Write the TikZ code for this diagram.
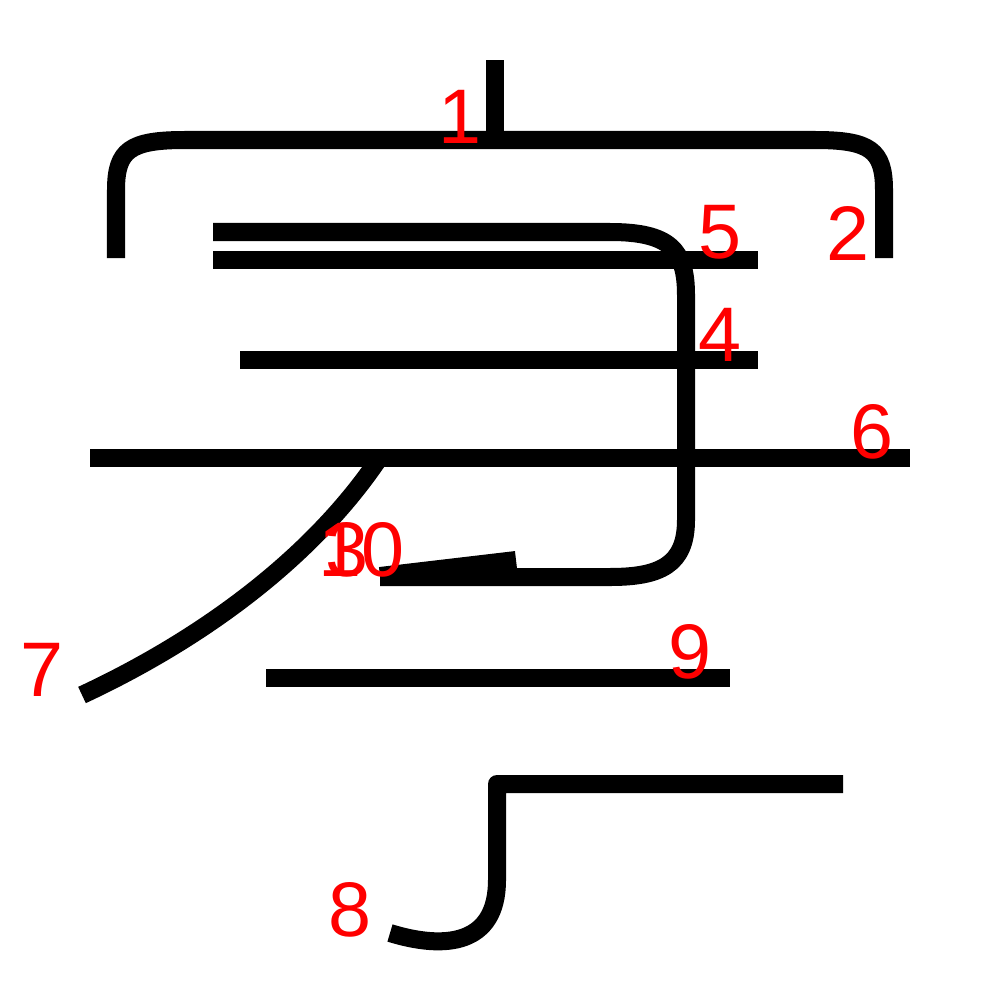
\documentclass[tikz,border=0pt]{standalone}
\usepackage{fontspec}
\newfontfamily\numfont{Liberation Sans}
\usetikzlibrary{positioning}

\begin{document}
\begin{tikzpicture}[
  x=0.01cm, y=-0.01cm,
  stroke/.style={draw=black, line width=0.18cm, line cap=butt, line join=round},
  num/.style={text=red, inner sep=0pt, font=\numfont\fontsize{22}{22}\selectfont}
]
  \useasboundingbox (0,0) rectangle (1000,1000);

  % Strokes
  \draw[stroke] (495,60) -- (495,140);
  \draw[stroke] (116,258) -- (116,190) .. controls (116,150) and (130,140) .. (185,140)
    -- (815,140) .. controls (870,140) and (884,150) .. (884,190) -- (884,258);
  \draw[stroke] (213,232) -- (610,232) .. controls (670,232) and (686,250) .. (686,295)
    -- (686,520) .. controls (686,565) and (660,577) .. (610,577) -- (380,577);
  \draw[stroke] (240,360) -- (758,360);
  \draw[stroke] (213,260) -- (758,260);
  \draw[stroke] (90,458) -- (910,458);
  \draw[stroke] (378,460) .. controls (310,560) and (200,640) .. (82,695);
  \draw[stroke] (843,784) -- (497,784) -- (497,880)
    .. controls (497,945) and (445,950) .. (390,933);
  \draw[stroke] (266,678) -- (730,678);
  \draw[stroke] (380,576) -- (516,560);

  % Stroke numbers
  \node[num] (n1) at (460,117) {1};
  \node[num] (n2) at (848,233) {2};
  \node[num] (n3) at (347,550) {3};
  \node[num] (n4) at (720,335) {4};
  \node[num] (n5) at (720,232) {5};
  \node[num] (n6) at (872,432) {6};
  \node[num] (n7) at (42,670) {7};
  \node[num] (n8) at (350,910) {8};
  \node[num] (n9) at (690,652) {9};
  \node[num] (n10) at (362,550) {10};
\end{tikzpicture}
\end{document}
